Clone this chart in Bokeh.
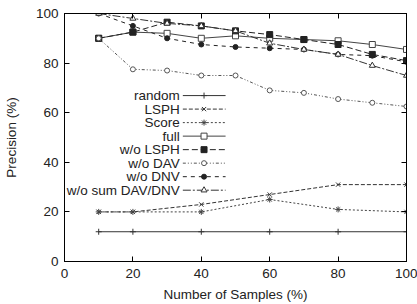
from bokeh.plotting import figure
from bokeh.models import LinearAxis, FixedTicker, Label, Range1d
from bokeh.embed import file_html
from bokeh.resources import INLINE

# sample sizes (%)
x_sparse = [10, 20, 40, 60, 80, 100]
x_dense = [10, 20, 30, 40, 50, 60, 70, 80, 90, 100]

# precision (%) per method
random_prec = [12, 12, 12, 12, 12, 12]
lsph_prec = [20, 20, 23, 27, 31, 31]
score_prec = [20, 20, 20, 25, 21, 20]
full_prec = [90, 92.5, 92, 90, 91, 90, 89.5, 89, 87.5, 85.5]
wo_lsph_prec = [90, 92.5, 96.5, 95, 93, 91.5, 89.5, 87.5, 83.5, 81]
wo_dav_prec = [90, 77.5, 77, 75, 75, 69, 68, 65.5, 64, 62.5]
wo_dnv_prec = [100, 95, 90, 87.5, 86.5, 86, 85.5, 83.5, 83, 80.5]
wo_sum_prec = [100, 98, 96, 95, 93, 88, 85.5, 83.5, 79, 75]

ticks = [0, 20, 40, 60, 80, 100]
FONT = "Liberation Sans"
FS = "13.5px"

p = figure(width=417, height=304, output_backend="svg", toolbar_location=None,
           x_range=Range1d(0, 100), y_range=Range1d(0, 100),
           min_border_left=62, min_border_right=11, min_border_top=13,
           min_border_bottom=42)
p.grid.visible = False
p.outline_line_color = "black"
p.outline_line_width = 1
p.background_fill_color = "white"
p.border_fill_color = "white"

for ax in (p.xaxis[0], p.yaxis[0]):
    ax.ticker = FixedTicker(ticks=ticks)
    ax.major_tick_in = 5
    ax.major_tick_out = 0
    ax.minor_tick_line_color = None
    ax.axis_line_color = "black"
    ax.major_label_text_font = FONT
    ax.major_label_text_font_size = FS
    ax.major_label_text_color = "#222222"
    ax.axis_label_text_font = FONT
    ax.axis_label_text_font_size = FS
    ax.axis_label_text_font_style = "normal"
    ax.axis_label_text_color = "#222222"

p.xaxis.axis_label = "Number of Samples (%)"
p.yaxis.axis_label = "Precision (%)"
p.xaxis.major_label_standoff = 7
p.xaxis.axis_label_standoff = 6
p.yaxis.major_label_standoff = 6
p.yaxis.axis_label_standoff = 14

# mirrored ticks on top and right, without labels
for side in ("above", "right"):
    mirror = LinearAxis(ticker=FixedTicker(ticks=ticks), major_tick_in=5,
                        major_tick_out=0, minor_tick_line_color=None,
                        major_label_standoff=0, axis_line_color="black")
    mirror.major_label_text_color = None
    mirror.major_label_text_font_size = "1px"
    p.add_layout(mirror, side)

series = [
    ("random", x_sparse, random_prec, None, "cross", False, "#333333"),
    ("LSPH", x_sparse, lsph_prec, "4 2", "x", False, "#333333"),
    ("Score", x_sparse, score_prec, "2 2", "asterisk", False, "#444444"),
    ("full", x_dense, full_prec, None, "square", False, "#444444"),
    ("w/o LSPH", x_dense, wo_lsph_prec, "6 3", "square", True, "#222222"),
    ("w/o DAV", x_dense, wo_dav_prec, "3 2 1 2 1 2", "circle", False, "#555555"),
    ("w/o DNV", x_dense, wo_dnv_prec, "4 4", "circle", True, "#222222"),
    ("w/o sum DAV/DNV", x_dense, wo_sum_prec, "8 2 2 2", "triangle", False, "#333333"),
]

# legend geometry (data units): label right edge, sample line, first row, row step
LEG_TEXT_X = 33.7
LEG_LINE_X0, LEG_LINE_X1, LEG_MARK_X = 34.6, 47.1, 40.8
LEG_Y0, LEG_DY = 66.9, 5.45

for i, (name, xs, ys, dash, marker, filled, color) in enumerate(series):
    dash_kw = {} if dash is None else {"line_dash": dash}
    p.line(xs, ys, line_color=color, line_width=1, **dash_kw)
    fill = color if filled else "white"
    size = 5 if marker == "circle" else 6
    p.scatter(xs, ys, marker=marker, size=size, line_color=color,
              fill_color=fill, line_width=1)

    ly = LEG_Y0 - i * LEG_DY
    p.add_layout(Label(x=LEG_TEXT_X, y=ly, text=name, text_align="right",
                       text_baseline="middle", text_font=FONT,
                       text_font_size=FS, text_color="#222222"))
    p.line([LEG_LINE_X0, LEG_LINE_X1], [ly, ly], line_color=color,
           line_width=1, **dash_kw)
    p.scatter([LEG_MARK_X], [ly], marker=marker, size=size, line_color=color,
              fill_color=fill, line_width=1)

open("out.html", "w").write(file_html(p, INLINE))
